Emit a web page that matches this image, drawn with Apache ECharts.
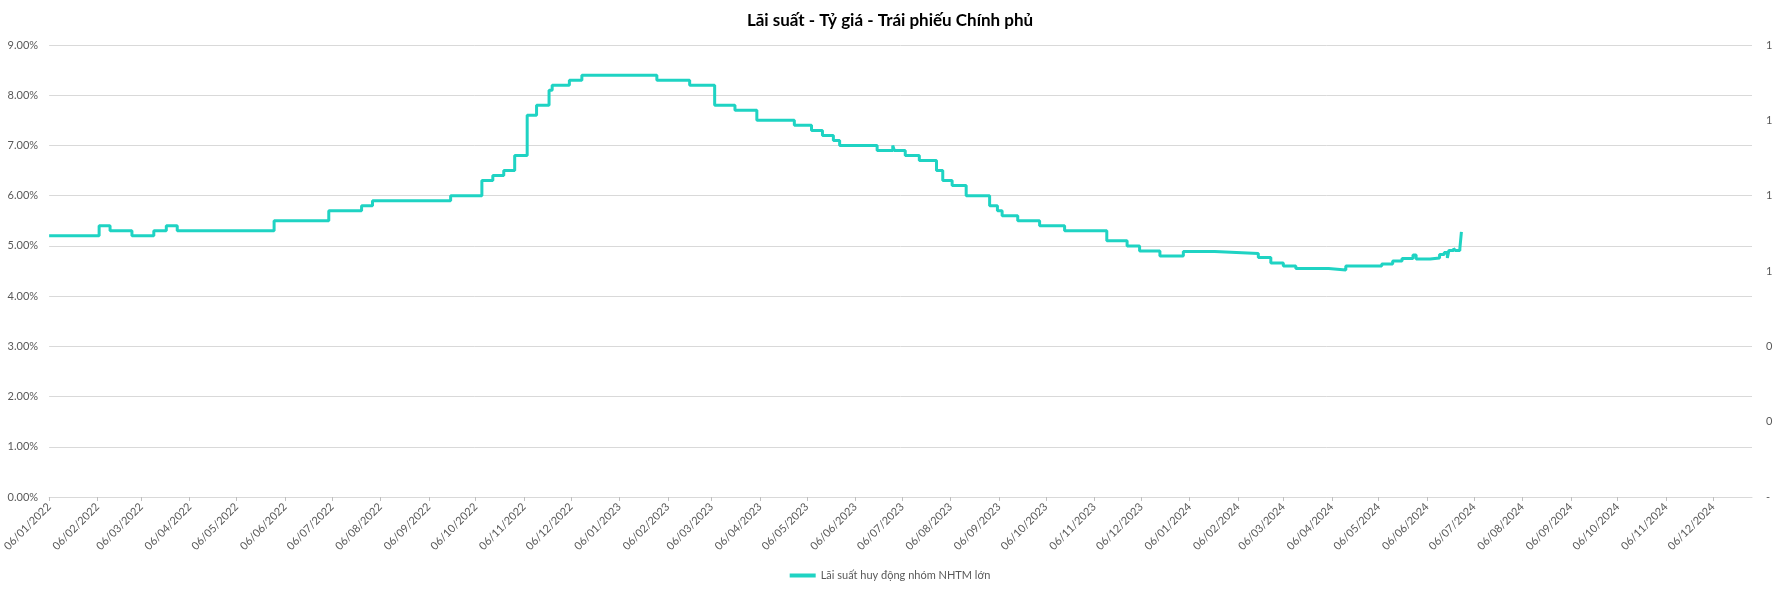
<!DOCTYPE html>
<html>
<head>
<meta charset="utf-8">
<title>Lãi suất - Tỷ giá - Trái phiếu Chính phủ</title>
<script src="https://cdn.jsdelivr.net/npm/echarts@6/dist/echarts.min.js"></script>
<style>
  html, body { margin: 0; padding: 0; background: #fff; }
  #chart { width: 1780px; height: 593px; }
</style>
</head>
<body>
<div id="chart"></div>
<script>
  // ngày thay đổi lãi suất (giá trị giữ nguyên tới lần thay đổi sau)
  var rateDates = [
    '2022-01-06', '2022-02-07', '2022-02-14', '2022-02-28', '2022-03-14', '2022-03-22',
    '2022-03-29', '2022-05-30', '2022-07-04', '2022-07-25', '2022-08-01', '2022-09-20',
    '2022-10-10', '2022-10-17', '2022-10-24', '2022-10-31', '2022-11-08', '2022-11-14',
    '2022-11-22', '2022-11-24', '2022-12-05', '2022-12-13',
    '2023-01-30', '2023-02-20', '2023-03-08', '2023-03-21', '2023-04-04', '2023-04-28',
    '2023-05-09', '2023-05-16', '2023-05-23', '2023-05-27', '2023-06-20', '2023-06-30',
    '2023-07-01', '2023-07-08', '2023-07-17', '2023-07-28', '2023-08-01', '2023-08-07',
    '2023-08-16', '2023-08-31', '2023-09-05', '2023-09-08', '2023-09-18', '2023-10-02',
    '2023-10-18', '2023-11-14', '2023-11-27', '2023-12-05', '2023-12-18',
    '2024-01-02', '2024-01-22', '2024-02-05', '2024-02-19', '2024-02-27', '2024-03-06',
    '2024-03-14', '2024-04-04', '2024-04-15', '2024-05-08', '2024-05-15', '2024-05-21',
    '2024-05-28', '2024-05-30', '2024-06-08', '2024-06-14', '2024-06-17', '2024-06-19',
    '2024-06-20', '2024-06-23', '2024-06-24', '2024-06-27', '2024-06-28'
  ]
  var rateValues = [
    5.2, 5.4, 5.3, 5.2, 5.3, 5.4,
    5.3, 5.5, 5.7, 5.8, 5.9, 6.0,
    6.3, 6.4, 6.5, 6.8, 7.6, 7.8,
    8.1, 8.2, 8.3, 8.4,
    8.3, 8.2, 7.8, 7.7, 7.5, 7.4,
    7.3, 7.2, 7.1, 7.0, 6.9, 7.0,
    6.9, 6.8, 6.7, 6.5, 6.3, 6.2,
    6.0, 5.8, 5.7, 5.6, 5.5, 5.4,
    5.3, 5.1, 5.0, 4.9, 4.8,
    4.89, 4.87, 4.85, 4.77, 4.66, 4.60,
    4.55, 4.52, 4.60, 4.64, 4.70, 4.75,
    4.82, 4.74, 4.76, 4.83, 4.87, 4.76,
    4.91, 4.95, 4.91, 4.95, 5.28
  ]
  var seriesName = 'Lãi suất huy động nhóm NHTM lớn'
  var axisStart = '2022-01-06'
  var axisEnd = '2024-12-31'
  var leftTicks = { min: 0, max: 9, interval: 1 }
  var rightTicks = { min: 0, max: 1.2, interval: 0.2 }

  function toTime(s) {
    var p = s.split('-')
    return new Date(+p[0], +p[1] - 1, +p[2]).getTime()
  }
  function pad(n) { return (n < 10 ? '0' : '') + n }
  function fmtDate(v) {
    var d = new Date(v)
    return pad(d.getDate()) + '/' + pad(d.getMonth() + 1) + '/' + d.getFullYear()
  }

  // nhãn trục X: ngày 06 hàng tháng
  var tickDates = []
  for (var y = 2022; y <= 2024; y++) {
    for (var m = 0; m < 12; m++) {
      tickDates.push(new Date(y, m, 6).getTime())
    }
  }

  var lineData = []
  for (var i = 0; i < rateDates.length; i++) {
    lineData.push([toTime(rateDates[i]), rateValues[i]])
  }

  var font = 'Lato, "Noto Sans", sans-serif'
  var myChart = echarts.init(document.getElementById('chart'))
  var option = {
    backgroundColor: '#ffffff',
    animation: false,
    textStyle: { fontFamily: font },
    title: {
      text: 'Lãi suất - Tỷ giá - Trái phiếu Chính phủ',
      left: 'center',
      top: 7,
      textStyle: { fontFamily: font, fontSize: 17, fontWeight: 'bold', color: '#000' }
    },
    legend: {
      bottom: 7,
      left: 'center',
      icon: 'rect',
      itemWidth: 26,
      itemHeight: 4,
      itemGap: 6,
      textStyle: { fontFamily: font, fontSize: 11, color: '#595959' },
      data: [seriesName]
    },
    grid: {
      left: 49,
      right: 28,
      top: 45,
      bottom: 96,
      containLabel: false
    },
    xAxis: {
      type: 'value',
      min: toTime(axisStart),
      max: toTime(axisEnd),
      axisLine: { show: true, onZero: false, lineStyle: { color: '#d9d9d9', width: 1 } },
      axisTick: {
        show: true,
        length: 4,
        customValues: tickDates,
        lineStyle: { color: '#bfbfbf' }
      },
      axisLabel: {
        customValues: tickDates,
        rotate: 45,
        margin: 8,
        fontSize: 11,
        color: '#595959',
        fontFamily: font,
        hideOverlap: false,
        showMinLabel: true,
        showMaxLabel: true,
        formatter: function (v) { return fmtDate(v) }
      },
      splitLine: { show: false }
    },
    yAxis: [{
      type: 'value',
      min: leftTicks.min,
      max: leftTicks.max,
      interval: leftTicks.interval,
      axisLine: { show: false },
      axisTick: { show: false },
      axisLabel: {
        margin: 11,
        fontSize: 11,
        color: '#595959',
        fontFamily: font,
        formatter: function (v) { return v.toFixed(2) + '%' }
      },
      splitLine: { lineStyle: { color: '#d9d9d9', width: 1 } }
    }, {
      type: 'value',
      position: 'right',
      min: rightTicks.min,
      max: rightTicks.max,
      interval: rightTicks.interval,
      axisLine: { show: false },
      axisTick: { show: false },
      splitLine: { show: false },
      axisLabel: {
        margin: 14,
        fontSize: 11,
        color: '#595959',
        fontFamily: font,
        formatter: function (v) { return Math.abs(v) < 1e-9 ? '-' : String(Math.round(v)) }
      }
    }],
    series: [{
      name: seriesName,
      type: 'line',
      step: 'end',
      yAxisIndex: 0,
      showSymbol: false,
      symbol: 'none',
      lineStyle: { color: '#1fd3c3', width: 3 },
      itemStyle: { color: '#1fd3c3' },
      data: lineData
    }]
  }
  myChart.setOption(option)
</script>
</body>
</html>
